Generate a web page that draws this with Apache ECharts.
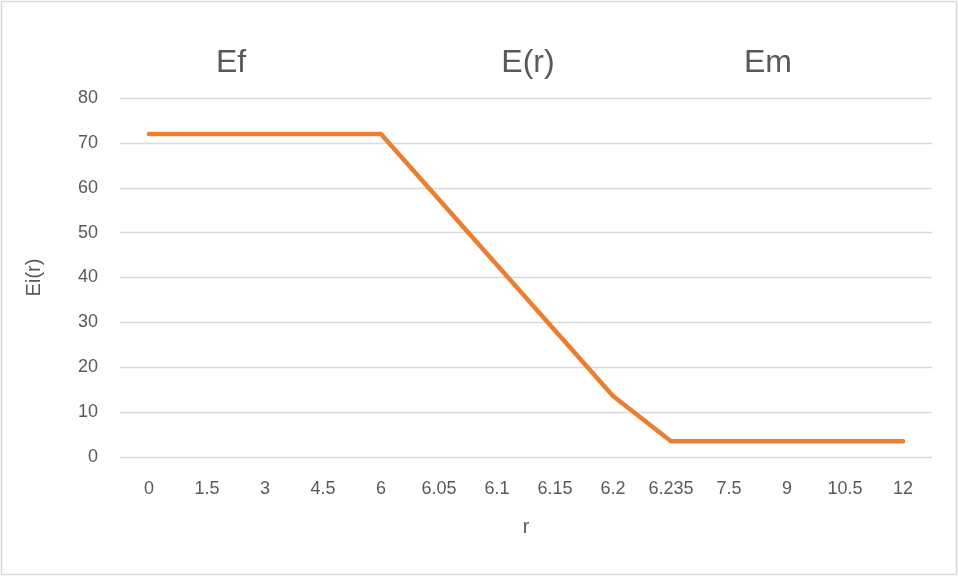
<!DOCTYPE html>
<html>
<head>
<meta charset="utf-8">
<script src="https://cdn.jsdelivr.net/npm/echarts@6/dist/echarts.min.js"></script>
<style>
  html, body { margin: 0; padding: 0; background: #fff; }
  #chart { width: 959px; height: 577px; }
</style>
</head>
<body>
<div id="chart"></div>
<script>
// Radial positions r and the modulus profile Ei(r)
const radii = ['0', '1.5', '3', '4.5', '6', '6.05', '6.1', '6.15', '6.2', '6.235', '7.5', '9', '10.5', '12'];
const modulus = [72, 72, 72, 72, 72, 57.4, 42.8, 28.2, 13.6, 3.5, 3.5, 3.5, 3.5, 3.5];
const regionLabels = ['Ef', 'E(r)', 'Em'];

const FONT = '"Liberation Sans", Arial, sans-serif';
const TEXT = '#595959';
const GRID = '#d9d9d9';

const chart = echarts.init(document.getElementById('chart'));

// Horizontal placement of the region labels (fibre / interphase / matrix)
const regionX = [231, 528, 768];

chart.setOption({
  animation: false,
  backgroundColor: '#fff',
  grid: { left: 120, right: 27, top: 98, bottom: 120 },
  xAxis: {
    type: 'category',
    data: radii,
    boundaryGap: true,
    name: 'r',
    nameLocation: 'middle',
    nameGap: 60,
    nameTextStyle: { color: TEXT, fontSize: 20, fontFamily: FONT },
    axisLine: { show: false },
    axisTick: { show: false },
    axisLabel: { color: TEXT, fontSize: 18, fontFamily: FONT, margin: 23, interval: 0 }
  },
  yAxis: {
    type: 'value',
    min: 0,
    max: 80,
    interval: 10,
    name: 'Ei(r)',
    nameLocation: 'middle',
    nameGap: 76,
    nameTextStyle: { color: TEXT, fontSize: 20, fontFamily: FONT },
    axisLine: { show: false },
    axisTick: { show: false },
    axisLabel: { color: TEXT, fontSize: 18, fontFamily: FONT, margin: 22 },
    splitLine: { lineStyle: { color: GRID, width: 1.3 } }
  },
  series: [{
    type: 'line',
    data: modulus,
    symbol: 'none',
    lineStyle: { color: '#ED7D31', width: 4.5, cap: 'round', join: 'round' },
    z: 3
  }],
  graphic: [
    {
      type: 'rect',
      shape: { x: 1.5, y: 1.5, width: 955, height: 573 },
      style: { fill: 'none', stroke: GRID, lineWidth: 1.5 },
      silent: true
    }
  ].concat(regionLabels.map((label, i) => ({
    type: 'text',
    x: regionX[i],
    y: 63,
    style: {
      text: label,
      fill: TEXT,
      font: '32px ' + FONT,
      textAlign: 'center',
      textVerticalAlign: 'middle'
    }
  })))
});
</script>
</body>
</html>
